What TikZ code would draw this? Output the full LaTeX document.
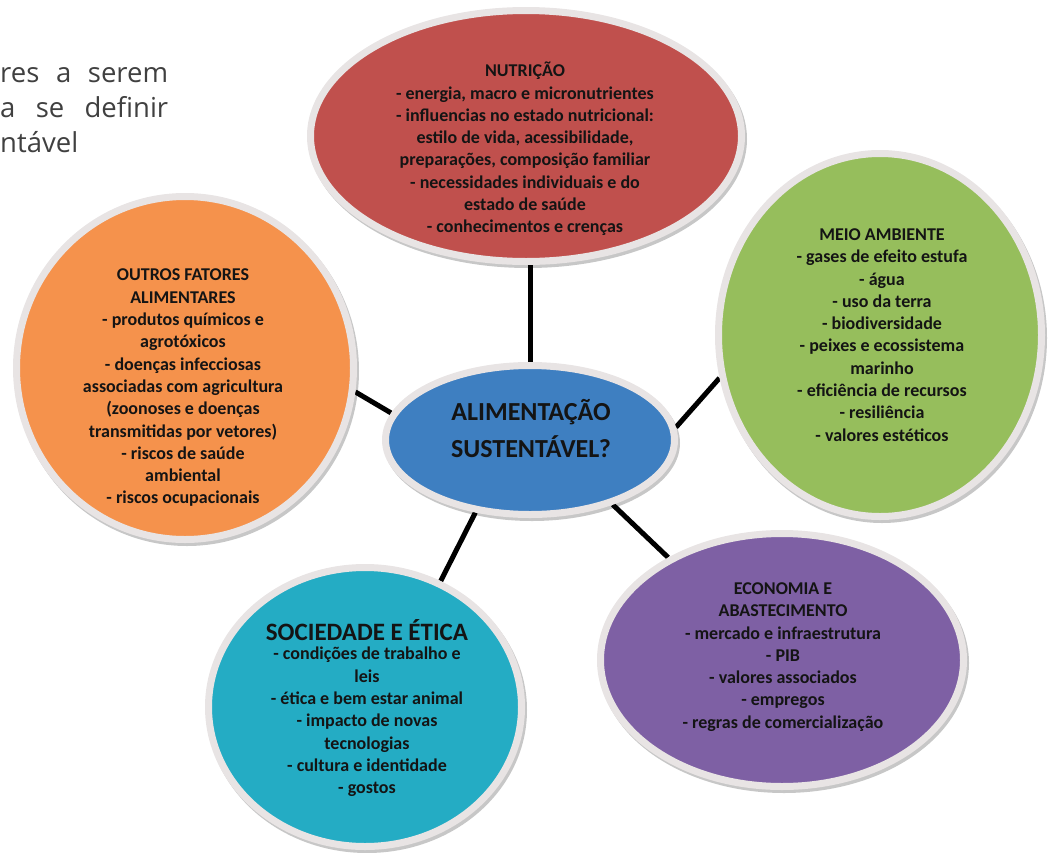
\documentclass[tikz,border=0pt]{standalone}
\usepackage{fontspec}
\setmainfont{Carlito}
\newfontfamily\introfont{Open Sans}
\usetikzlibrary{shapes.geometric,backgrounds}
\definecolor{cred}{RGB}{192,80,77}
\definecolor{cgreen}{RGB}{150,190,92}
\definecolor{corange}{RGB}{245,146,76}
\definecolor{cpurple}{RGB}{126,96,164}
\definecolor{ccyan}{RGB}{36,172,196}
\definecolor{cblue}{RGB}{62,127,193}
\definecolor{ringc}{RGB}{232,228,228}
\definecolor{txtc}{RGB}{20,20,20}
\definecolor{introc}{RGB}{64,64,64}
\tikzset{
  ringell/.style={shape=ellipse, draw=ringc, line width=7pt, inner sep=0pt},
  shd/.style={shape=ellipse, fill=black, opacity=0.22, inner sep=0pt},
  txt/.style={align=center, font=\fontsize{18}{22.3}\selectfont\bfseries, text=txtc, inner sep=0pt},
  link/.style={line width=5pt, black},
  intro/.style={font=\introfont\fontsize{27.5}{34}\selectfont, text=introc, inner sep=0pt, anchor=base west}
}
\begin{document}
\begin{tikzpicture}[x=1pt,y=-1pt]
\useasboundingbox (0,0) rectangle (1050,852);
% intro text
\node[intro] (i1) at (0,82) {\hbox to 168pt{res\hfill a\hfill serem}};
\node[intro] (i2) at (0,117) {\hbox to 168pt{a\hfill se\hfill definir}};
\node[intro] (i3) at (0,152) {ntável};
% shadows
\node[shd, minimum width=438pt, minimum height=258pt] (nutS) at (528,139) {};
\node[shd, minimum width=330pt, minimum height=370pt] (meiS) at (882,338) {};
\node[shd, minimum width=344pt, minimum height=350pt] (outS) at (187,371) {};
\node[shd, minimum width=320pt, minimum height=286pt] (socS) at (367,710) {};
\node[shd, minimum width=370pt, minimum height=260pt] (ecoS) at (784,663) {};
\node[shd, minimum width=296pt, minimum height=156pt] (cenS) at (532,443) {};
% ellipses
\node[ringell, fill=cred, minimum width=431pt, minimum height=251pt] (nut) at (526,136) {};
\node[ringell, fill=cgreen, minimum width=323pt, minimum height=363pt] (mei) at (880,335) {};
\node[ringell, fill=corange, minimum width=337pt, minimum height=343pt] (out) at (185,368) {};
\node[ringell, fill=ccyan, minimum width=313pt, minimum height=279pt] (soc) at (365,707) {};
\node[ringell, fill=cpurple, minimum width=363pt, minimum height=253pt] (eco) at (782,660) {};
\node[ringell, fill=cblue, minimum width=289pt, minimum height=149pt] (cen) at (530,440) {};
% connectors
\begin{scope}[on background layer]
\draw[link] (cen.north) -- (cen.north |- nut.south);
\draw[link] (out.-8.5) -- (cen.169.2);
\draw[link] (mei.195.8) -- (cen.5.7);
\draw[link] (cen.-38.4) -- (eco.138.3);
\draw[link] (cen.-127.2) -- (soc.59.8);
\end{scope}
% texts
\node[txt] (nutT) at (525,149) {NUTRIÇÃO\\- energia, macro e micronutrientes\\- influencias no estado nutricional:\\estilo de vida, acessibilidade,\\preparações, composição familiar\\- necessidades individuais e do\\estado de saúde\\- conhecimentos e crenças};
\node[txt] (meiT) at (882,335) {MEIO AMBIENTE\\- gases de efeito estufa\\- água\\- uso da terra\\- biodiversidade\\- peixes e ecossistema\\marinho\\- eficiência de recursos\\- resiliência\\- valores estéticos};
\node[txt] (outT) at (183,388) {OUTROS FATORES\\ALIMENTARES\\- produtos químicos e\\agrotóxicos\\- doenças infecciosas\\associadas com agricultura\\(zoonoses e doenças\\transmitidas por vetores)\\- riscos de saúde\\ambiental\\- riscos ocupacionais};
\node[txt, font=\fontsize{25}{30}\selectfont\bfseries] (socH) at (367,630) {SOCIEDADE E ÉTICA};
\node[txt] (socT) at (367,722) {- condições de trabalho e\\leis\\- ética e bem estar animal\\- impacto de novas\\tecnologias\\- cultura e identidade\\- gostos};
\node[txt] (ecoT) at (783,657) {ECONOMIA E\\ABASTECIMENTO\\- mercado e infraestrutura\\- PIB\\- valores associados\\- empregos\\- regras de comercialização};
\node[txt, font=\fontsize{26}{37}\selectfont\bfseries] (cenT) at (531,429) {ALIMENTAÇÃO\\SUSTENTÁVEL?};
\end{tikzpicture}
\end{document}
